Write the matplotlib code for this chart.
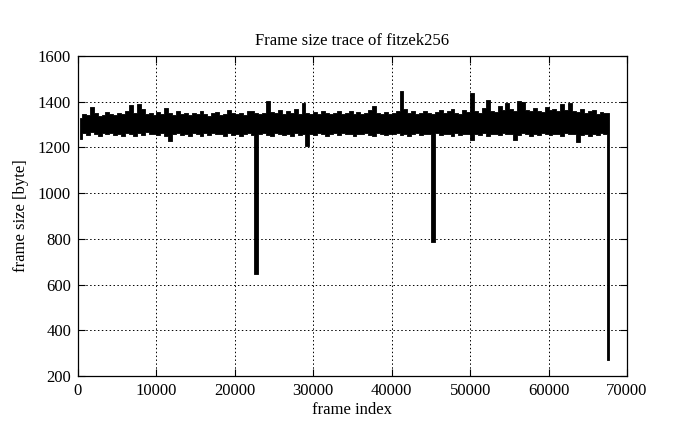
import matplotlib
matplotlib.use("Agg")
import matplotlib.pyplot as plt
import numpy as np

plt.rcParams['font.family'] = ['Liberation Serif', 'DejaVu Serif']

title = "Frame size trace of fitzek256"
xlabel = "frame index"
ylabel = "frame size [byte]"
bin_frames = 500  # frames per envelope bin

# upper envelope of frame sizes per 500-frame bin (bytes)
upper = [
    1330, 1345, 1340, 1375, 1350, 1338, 1342, 1355, 1348, 1340,
    1352, 1345, 1360, 1387, 1350, 1390, 1370, 1345, 1352, 1340,
    1355, 1348, 1372, 1350, 1342, 1358, 1345, 1350, 1340, 1352,
    1348, 1360, 1345, 1338, 1350, 1355, 1342, 1348, 1365, 1350,
    1345, 1352, 1340, 1358, 1360, 1350, 1345, 1350, 1403, 1355,
    1350, 1362, 1345, 1358, 1350, 1370, 1348, 1394, 1352, 1345,
    1355, 1348, 1360, 1350, 1345, 1352, 1358, 1345, 1350, 1360,
    1348, 1355, 1345, 1350, 1362, 1381, 1350, 1345, 1355, 1348,
    1352, 1360, 1448, 1370, 1350, 1358, 1345, 1352, 1360, 1350,
    1348, 1355, 1362, 1350, 1358, 1368, 1350, 1345, 1365, 1355,
    1438, 1360, 1350, 1372, 1407, 1360, 1355, 1380, 1362, 1394,
    1368, 1360, 1403, 1400, 1365, 1358, 1372, 1360, 1355, 1375,
    1362, 1368, 1358, 1390, 1365, 1394, 1360, 1355, 1368, 1350,
    1358, 1362, 1345, 1355, 1352, 1350,
]
# lower envelope of frame sizes per 500-frame bin (bytes)
lower = [
    1235, 1262, 1255, 1268, 1260, 1250, 1265, 1258, 1262, 1255,
    1260, 1252, 1265, 1258, 1250, 1262, 1255, 1268, 1258, 1260,
    1255, 1262, 1250, 1228, 1258, 1265, 1255, 1260, 1252, 1262,
    1258, 1250, 1262, 1255, 1265, 1258, 1260, 1252, 1262, 1255,
    1260, 1250, 1258, 1262, 1255, 646, 1260, 1265, 1255, 1250,
    1262, 1258, 1255, 1260, 1250, 1262, 1255, 1258, 1206, 1260,
    1255, 1262, 1258, 1250, 1260, 1265, 1255, 1262, 1258, 1260,
    1252, 1260, 1258, 1262, 1255, 1250, 1262, 1258, 1255, 1260,
    1258, 1262, 1255, 1260, 1252, 1258, 1262, 1255, 1260, 1258,
    788, 1262, 1255, 1260, 1258, 1250, 1262, 1255, 1258, 1260,
    1232, 1258, 1255, 1262, 1250, 1258, 1260, 1255, 1262, 1258,
    1260, 1234, 1255, 1262, 1258, 1250, 1260, 1255, 1262, 1258,
    1255, 1260, 1258, 1250, 1262, 1258, 1260, 1225, 1255, 1258,
    1250, 1260, 1255, 1262, 1258, 270,
]
xticks = [0, 10000, 20000, 30000, 40000, 50000, 60000, 70000]
yticks = [200, 400, 600, 800, 1000, 1200, 1400, 1600]

n = len(upper)
x_bins = np.arange(n) * bin_frames + bin_frames / 2

fig = plt.figure(figsize=(6.95, 4.29), dpi=100)
ax = fig.add_axes([78 / 695, 53 / 429, 549 / 695, 320 / 429])
ax.fill_between(x_bins, lower, upper, step='mid', facecolor='black',
                edgecolor='black', linewidth=0.6, zorder=3)

ax.set_xlim(0, 70000)
ax.set_ylim(200, 1600)
ax.set_xticks(xticks)
ax.set_yticks(yticks)
ax.set_xticklabels([str(t) for t in xticks])
ax.set_yticklabels([str(t) for t in yticks])
ax.tick_params(direction='in', length=5, width=0.8, top=True, right=True,
               labelsize=12, colors='black', pad=5)
ax.grid(True, color='black', linestyle=(0, (1.5, 2.5)), linewidth=0.7)
for s in ax.spines.values():
    s.set_linewidth(0.9)
    s.set_color('black')

ax.set_title(title, fontsize=12, pad=8)
ax.set_xlabel(xlabel, fontsize=12, labelpad=2)
ax.set_ylabel(ylabel, fontsize=12, labelpad=6)

fig.savefig("out.png", dpi=100)
